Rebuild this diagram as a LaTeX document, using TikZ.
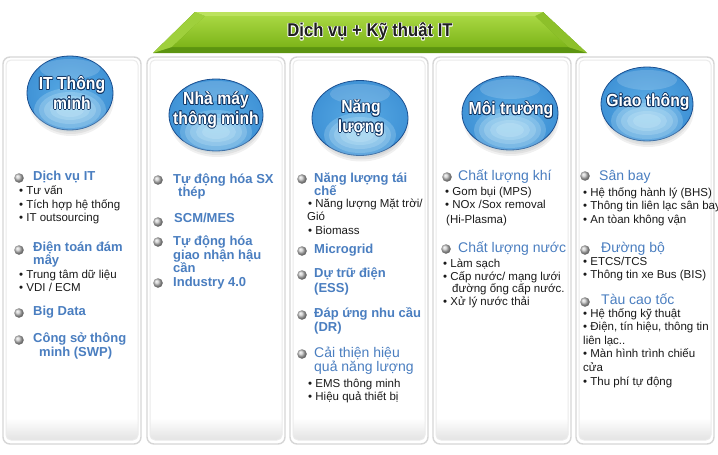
\documentclass[tikz,border=0pt]{standalone}
\usepackage{fontspec}
\setmainfont{Liberation Sans}
\newfontfamily\narrowfont[FakeStretch=0.9]{Liberation Sans}
\usetikzlibrary{shadows,shapes.geometric,calc}
\definecolor{headblue}{HTML}{4A7EC0}
\definecolor{subtext}{HTML}{1A1A1A}
\definecolor{navyline}{HTML}{0F3463}
\definecolor{sphA}{HTML}{D8F3FC}
\definecolor{sphB}{HTML}{58AAE4}
\definecolor{sphC}{HTML}{3F92D6}
\definecolor{sphD}{HTML}{2A72BA}
\definecolor{sphE}{HTML}{1B4F90}
\definecolor{grA}{HTML}{5C9410}
\definecolor{grB}{HTML}{9FD03C}
\definecolor{grC}{HTML}{8DC02A}
\definecolor{grD}{HTML}{BCE25E}
\definecolor{grE}{HTML}{A8D742}
\definecolor{grF}{HTML}{7DB519}
\definecolor{panelout}{HTML}{D6D6D6}
\definecolor{panelin}{HTML}{EBEBEB}
\pgfdeclareradialshading{glassball}{\pgfpoint{0bp}{0bp}}{%
  color(0bp)=(sphB); color(26bp)=(sphC); color(42bp)=(sphD); color(50bp)=(sphE); color(56bp)=(sphE)}
\newcommand\otlx[4]{\rlap{\hspace*{#1}\raisebox{#2}{\textcolor{#3}{#4}}}}
\newcommand\otl[3]{%
  \otlx{-0.8pt}{0pt}{#1}{#3}\otlx{0.8pt}{0pt}{#1}{#3}\otlx{0pt}{0.8pt}{#1}{#3}\otlx{0pt}{-0.8pt}{#1}{#3}%
  \otlx{-0.6pt}{0.6pt}{#1}{#3}\otlx{0.6pt}{0.6pt}{#1}{#3}\otlx{-0.6pt}{-0.6pt}{#1}{#3}\otlx{0.6pt}{-0.6pt}{#1}{#3}%
  \textcolor{#2}{#3}}
\newcommand\sph[1]{\otl{navyline}{white}{#1}}
\tikzset{
  hd/.style={anchor=mid west, inner sep=0pt, text=headblue, font=\fontsize{13}{15}\selectfont\bfseries},
  hdr/.style={anchor=mid west, inner sep=0pt, text=headblue, font=\fontsize{14}{16}\selectfont},
  sub/.style={anchor=mid west, inner sep=0pt, text=subtext, font=\fontsize{11.5}{13}\selectfont},
  orb/.style={circle, inner sep=0pt, minimum size=9.5pt, ball color=gray!45, draw=none},
  sphere/.style={ellipse, inner sep=0pt, shading=glassball, draw=sphE, line width=0.8pt},
  spheretext/.style={align=center, inner sep=0pt, font=\narrowfont\bfseries\fontsize{17.5}{19.5}\selectfont},
}
\begin{document}
\begin{tikzpicture}[x=1pt, y=-1pt]
\useasboundingbox (0,0) rectangle (718,455);
\fill[white] (0,0) rectangle (718,455);
% panels
\foreach \xa/\xb in {3/141, 147/285, 290/428, 433/571, 576/714}{
  \draw[panelout, line width=1.4pt, fill=white, rounded corners=7pt] (\xa,57) rectangle (\xb,444);
  \shade[top color=white, bottom color=black!11, rounded corners=5pt] (\xa+3,418) rectangle (\xb-3,440);
  \draw[panelin, line width=1pt, rounded corners=5pt] (\xa+3,60) rectangle (\xb-3,440);
}
% banner
\fill[grA] (195,12) -- (543,12) -- (587,53) -- (153,53) -- cycle;
\fill[grB] (153,53) -- (195,12) -- (205,16) -- (172,47) -- cycle;
\fill[grC] (587,53) -- (543,12) -- (535,16) -- (568,47) -- cycle;
\fill[grD] (195,12) -- (543,12) -- (535,16) -- (205,16) -- cycle;
\shade[top color=grE, bottom color=grF] (205,16) -- (535,16) -- (568,47) -- (172,47) -- cycle;
\node[inner sep=0pt, font=\narrowfont\bfseries\fontsize{18.5}{20}\selectfont] (banner) at (370,32)
  {\otl{white}{black!88}{Dịch vụ + Kỹ thuật IT}};
% sphere shadows
\foreach \cx/\cy/\w/\h in {70/93/86/74, 216/115/94/72, 360/118/96/75, 510/113/96/74, 647/104/92/74}{
  \foreach \g in {0,2,4}{
    \fill[black, opacity=.06] (\cx+1,\cy+6) ellipse [x radius=\w/2-\g, y radius=\h/2-\g];
  }
}
% spheres
\node[sphere, minimum width=86pt, minimum height=74pt] (s1) at (70,93) {};
\node[sphere, minimum width=94pt, minimum height=72pt] (s2) at (216,115) {};
\node[sphere, minimum width=96pt, minimum height=75pt] (s3) at (360,118) {};
\node[sphere, minimum width=96pt, minimum height=74pt] (s4) at (510,113) {};
\node[sphere, minimum width=92pt, minimum height=74pt] (s5) at (647,104) {};
\foreach \s in {s1,s2,s3,s4,s5}{
  \foreach \rx/\ry in {36/22, 31/18, 26/14, 20/10, 14/7}{
    \fill[sphA, opacity=.22] ($(\s.center)+(0,17)$) ellipse [x radius=\rx, y radius=\ry];
  }
  \fill[white, opacity=.16] ($(\s.center)+(0,-24)$) ellipse [x radius=30, y radius=10];
}
\node[spheretext] (t1) at (72,93) {\sph{IT Thông}\\\sph{minh}};
\node[spheretext] (t2) at (216,110) {\sph{Nhà máy}\\\sph{thông minh}};
\node[spheretext] (t3) at (361,118) {\sph{Năng}\\\sph{lượng}};
\node[spheretext] (t4) at (511,110) {\sph{Môi trường}};
\node[spheretext] (t5) at (648,102) {\sph{Giao thông}};
% column 1
\node[orb] (b11) at (19,178) {};
\node[hd] (h11) at (33,178) {Dịch vụ IT};
\node[sub] (u11) at (19,192) {• Tư vấn};
\node[sub] (u12) at (19,205.5) {• Tích hợp hệ thống};
\node[sub] (u13) at (19,219) {• IT outsourcing};
\node[orb] (b12) at (19,250) {};
\node[hd] (h12) at (33,249) {Điện toán đám};
\node[hd] (h12b) at (33,262) {mây};
\node[sub] (u14) at (19,276) {• Trung tâm dữ liệu};
\node[sub] (u15) at (19,289) {• VDI / ECM};
\node[orb] (b13) at (19,313) {};
\node[hd] (h13) at (33,313) {Big Data};
\node[orb] (b14) at (19,340) {};
\node[hd] (h14) at (33,340) {Công sở thông};
\node[hd] (h14b) at (39,354) {minh (SWP)};
% column 2
\node[orb] (b21) at (158,180) {};
\node[hd] (h21) at (173,181) {Tự động hóa SX};
\node[hd] (h21b) at (178,194) {thép};
\node[orb] (b22) at (158,222) {};
\node[hd] (h22) at (174,220) {SCM/MES};
\node[orb] (b23) at (158,242) {};
\node[hd] (h23) at (173,243) {Tự động hóa};
\node[hd] (h23b) at (173,257) {giao nhận hậu};
\node[hd] (h23c) at (173,270) {cần};
\node[orb] (b24) at (158,283) {};
\node[hd] (h24) at (173,284) {Industry 4.0};
% column 3
\node[orb] (b31) at (302,179) {};
\node[hd] (h31) at (314,180) {Năng lượng tái};
\node[hd] (h31b) at (314,193) {chế};
\node[sub] (u31) at (308,205) {• Năng lượng Mặt trời/};
\node[sub] (u31b) at (307,218) {Gió};
\node[sub] (u32) at (308,232) {• Biomass};
\node[orb] (b32) at (302,251) {};
\node[hd] (h32) at (314,251) {Microgrid};
\node[orb] (b33) at (302,275) {};
\node[hd] (h33) at (314,275) {Dự trữ điện};
\node[hd] (h33b) at (314,290) {(ESS)};
\node[orb] (b34) at (302,315) {};
\node[hd] (h34) at (314,315) {Đáp ứng nhu cầu};
\node[hd] (h34b) at (314,329) {(DR)};
\node[orb] (b35) at (302,354) {};
\node[hdr] (h35) at (314,355) {Cải thiện hiệu};
\node[hdr] (h35b) at (314,369) {quả năng lượng};
\node[sub] (u33) at (308,385) {• EMS thông minh};
\node[sub] (u34) at (308,398) {• Hiệu quả thiết bị};
% column 4
\node[orb] (b41) at (447,177) {};
\node[hdr] (h41) at (458,178) {Chất lượng khí};
\node[sub] (u41) at (445,193) {• Gom bụi (MPS)};
\node[sub] (u42) at (445,206) {• NOx /Sox removal};
\node[sub] (u42b) at (446,221) {(Hi-Plasma)};
\node[orb] (b42) at (446,249) {};
\node[hdr] (h42) at (458,250) {Chất lượng nước};
\node[sub] (u43) at (443,265) {• Làm sạch};
\node[sub] (u44) at (443,278) {• Cấp nước/ mạng lưới};
\node[sub] (u44b) at (452,290) {đường ống cấp nước.};
\node[sub] (u45) at (443,303) {• Xử lý nước thải};
% column 5
\node[orb] (b51) at (585,176) {};
\node[hdr] (h51) at (599,178) {Sân bay};
\node[sub] (u51) at (583,194) {• Hệ thống hành lý (BHS)};
\node[sub] (u52) at (583,207) {• Thông tin liên lạc sân bay};
\node[sub] (u53) at (583,221) {• An tòan không vận};
\node[orb] (b52) at (585,250) {};
\node[hdr] (h52) at (601,250) {Đường bộ};
\node[sub] (u54) at (583,263) {• ETCS/TCS};
\node[sub] (u55) at (583,276) {• Thông tin xe Bus (BIS)};
\node[orb] (b53) at (585,302) {};
\node[hdr] (h53) at (601,302) {Tàu cao tốc};
\node[sub] (u56) at (583,315) {• Hệ thống kỹ thuật};
\node[sub] (u57) at (583,328) {• Điện, tín hiệu, thông tin};
\node[sub] (u57b) at (583,342) {liên lạc..};
\node[sub] (u58) at (583,355) {• Màn hình trình chiếu};
\node[sub] (u58b) at (583,369) {cửa};
\node[sub] (u59) at (583,383) {• Thu phí tự động};
\end{tikzpicture}
\end{document}
